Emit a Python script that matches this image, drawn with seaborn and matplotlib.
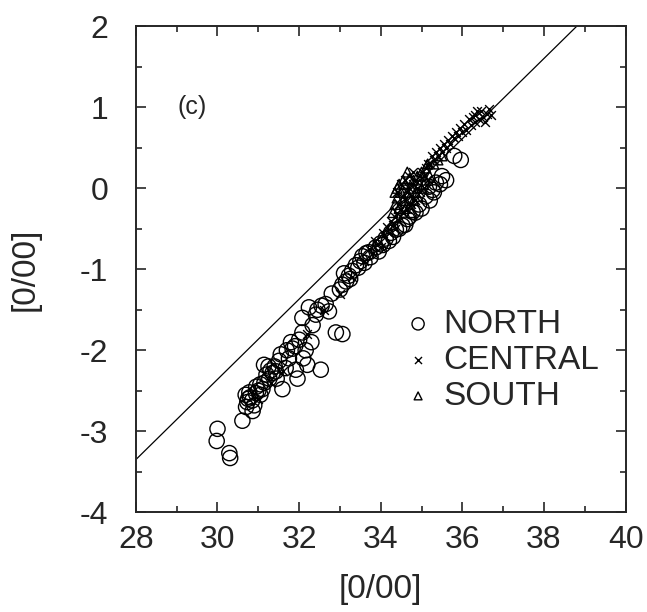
import matplotlib
matplotlib.use("Agg")
import matplotlib.pyplot as plt
import seaborn as sns
from matplotlib.ticker import MultipleLocator

# NORTH stations (open circles)
north_x = [30.0, 29.98, 30.29, 30.31, 30.61, 30.86, 30.73, 30.69, 30.75, 30.8,
           30.94, 30.85, 30.9, 31.0, 31.1, 31.05, 31.14, 31.2, 31.27, 31.3,
           31.35, 31.43, 31.59, 31.51, 31.4, 31.67, 31.75, 31.84, 31.92, 31.96,
           32.0, 32.08, 32.08, 32.16, 32.2, 32.24, 32.33, 32.41, 32.53, 32.65,
           32.73, 32.9, 33.06, 33.0, 33.06, 33.15, 33.22, 33.3, 33.39, 33.5,
           33.55, 33.65, 33.71, 33.88, 34.0, 34.12, 34.25, 34.37, 34.53, 34.65,
           34.78, 34.94, 35.1, 35.18, 35.27, 35.35, 35.5, 35.8, 35.96,
           30.7, 30.78, 30.95, 31.05, 31.15, 31.25, 31.45, 31.55, 31.7, 31.8,
           31.9, 32.1, 32.3, 32.45, 32.55, 32.8, 33.1, 33.25, 33.45, 33.6,
           33.75, 33.95, 34.05, 34.2, 34.3, 34.45, 34.6, 34.7, 34.85, 35.0,
           35.2, 35.3, 35.45, 35.6]
north_y = [-2.97, -3.12, -3.27, -3.33, -2.87, -2.75, -2.64, -2.55, -2.6, -2.58,
           -2.53, -2.62, -2.68, -2.5, -2.48, -2.42, -2.18, -2.3, -2.35, -2.25,
           -2.28, -2.26, -2.48, -2.13, -2.2, -2.22, -2.1, -1.98, -2.24, -2.35,
           -1.87, -1.78, -1.6, -2.0, -2.18, -1.47, -1.69, -1.56, -2.24, -1.43,
           -1.52, -1.78, -1.8, -1.25, -1.19, -1.15, -1.08, -1.02, -0.95, -0.9,
           -0.84, -0.8, -0.79, -0.73, -0.68, -0.62, -0.55, -0.51, -0.46, -0.38,
           -0.29, -0.2, -0.1, 0.02, -0.02, 0.07, 0.15, 0.4, 0.35,
           -2.7, -2.52, -2.45, -2.55, -2.4, -2.2, -2.35, -2.05, -2.0, -1.9,
           -1.95, -2.1, -1.9, -1.5, -1.45, -1.3, -1.05, -1.12, -0.98, -0.92,
           -0.85, -0.78, -0.7, -0.65, -0.6, -0.5, -0.45, -0.35, -0.3, -0.25,
           -0.15, -0.05, 0.05, 0.1]

# CENTRAL stations (crosses)
central_x = [31.0, 31.3, 31.6, 32.2, 32.6, 33.0, 33.3, 33.6, 33.8, 33.9,
             34.0, 34.1, 34.2, 34.3, 34.35, 34.4, 34.45, 34.5, 34.55, 34.6,
             34.65, 34.7, 34.75, 34.8, 34.85, 34.9, 34.95, 35.0, 35.05, 35.1,
             35.2, 35.3, 35.4, 35.5, 35.6, 35.7, 35.8, 35.9, 36.0, 36.1,
             36.2, 36.3, 36.4, 36.5, 36.6, 36.7, 36.55, 36.45, 36.3, 36.15,
             33.7, 33.85, 34.05, 34.15, 34.25, 34.35, 34.45, 35.15, 35.25, 35.35,
             35.45, 35.55, 35.65, 35.75, 35.85, 35.95, 36.05, 36.25, 36.35, 36.65,
             34.4, 34.5, 34.6, 34.7, 34.8, 34.55, 34.65, 34.75, 34.85, 34.95,
             35.05, 35.15]
central_y = [-2.6, -2.4, -2.25, -1.8, -1.5, -1.3, -1.1, -0.9, -0.8, -0.7,
             -0.72, -0.6, -0.55, -0.45, -0.35, -0.3, -0.2, -0.25, -0.1, -0.15,
             -0.05, 0.0, -0.1, 0.05, 0.1, 0.0, 0.15, 0.2, 0.15, 0.25,
             0.3, 0.35, 0.4, 0.45, 0.5, 0.55, 0.62, 0.65, 0.7, 0.72,
             0.78, 0.82, 0.85, 0.88, 0.92, 0.9, 0.82, 0.95, 0.9, 0.85,
             -0.75, -0.65, -0.55, -0.48, -0.4, -0.5, -0.4, 0.3, 0.4, 0.45,
             0.5, 0.55, 0.6, 0.65, 0.7, 0.75, 0.8, 0.88, 0.95, 0.98,
             -0.05, 0.05, 0.1, 0.15, 0.2, -0.3, -0.25, -0.2, -0.15, -0.05,
             0.0, 0.1]

# SOUTH stations (open triangles)
south_x = [34.3, 34.35, 34.4, 34.45, 34.5, 34.55, 34.6, 34.65, 34.7, 34.7,
           34.75, 34.8, 34.85, 34.9, 34.95, 35.0, 35.05, 35.1, 35.2, 35.3,
           35.4, 34.55, 34.4, 34.6, 35.15, 35.5, 34.35, 34.8, 35.0,
           34.45, 34.65, 34.75, 34.9, 35.1]
south_y = [-0.3, -0.2, -0.12, -0.25, -0.05, -0.15, 0.05, -0.05, -0.12, 0.12,
           0.0, 0.1, -0.05, 0.15, 0.05, 0.2, 0.05, 0.25, 0.15, 0.3,
           0.35, 0.1, 0.0, -0.25, 0.3, 0.4, -0.05, -0.15, 0.0,
           0.05, 0.2, -0.3, -0.1, 0.1]

# reference line
line_x = [28.0, 38.8]
line_y = [-3.35, 2.0]

sns.set_style("ticks")
plt.rcParams['font.family'] = ['Liberation Sans', 'DejaVu Sans']
plt.rcParams['axes.unicode_minus'] = False

fig = plt.figure(figsize=(6.47, 6.12), dpi=100)
ax = fig.add_axes([0.210, 0.163, 0.757, 0.794])

sns.lineplot(x=line_x, y=line_y, ax=ax, color='black', linewidth=0.9)
sns.scatterplot(x=north_x, y=north_y, ax=ax, marker='o', s=120,
                facecolor='none', edgecolor='black', linewidth=1.0, label='NORTH')
sns.scatterplot(x=central_x, y=central_y, ax=ax, marker='x', s=40,
                color='black', linewidth=1.0, label='CENTRAL')
sns.scatterplot(x=south_x, y=south_y, ax=ax, marker='^', s=50,
                facecolor='none', edgecolor='black', linewidth=1.0, label='SOUTH')

ax.set_xlim(28, 40)
ax.set_ylim(-4, 2)
ax.xaxis.set_major_locator(MultipleLocator(2))
ax.xaxis.set_minor_locator(MultipleLocator(1))
ax.yaxis.set_major_locator(MultipleLocator(1))
ax.yaxis.set_minor_locator(MultipleLocator(0.5))
ax.tick_params(which='both', direction='in', top=True, right=True,
               width=1.2, labelsize=23)
ax.tick_params(axis='x', pad=9)
ax.tick_params(axis='y', pad=20)
ax.tick_params(which='major', length=7)
ax.tick_params(which='minor', length=4.5)
for sp in ax.spines.values():
    sp.set_linewidth(1.4)

ax.set_xlabel('[0/00]', fontsize=24, labelpad=14)
ax.set_ylabel('[0/00]', fontsize=24, labelpad=28)
ax.text(29.37, 1.0, '(c)', fontsize=18, va='center', ha='center')

ax.legend(loc='center left', bbox_to_anchor=(0.549, 0.313), frameon=False,
          fontsize=24, handlelength=0.8, handletextpad=0.35, labelspacing=0.15,
          markerscale=0.8, borderpad=0, borderaxespad=0)

fig.savefig('out.png', dpi=100)
plt.close(fig)
